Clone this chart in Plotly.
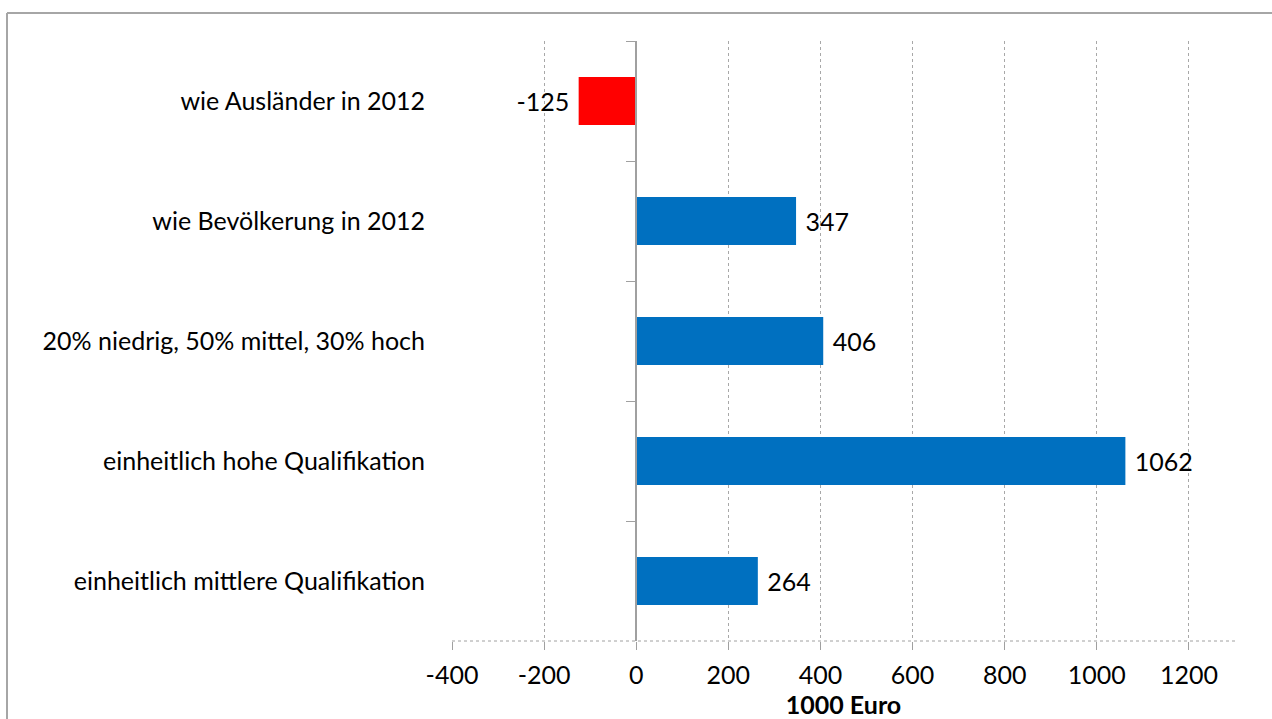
import plotly.graph_objects as go

categories = [
    "wie Ausländer in 2012",
    "wie Bevölkerung in 2012",
    "20% niedrig, 50% mittel, 30% hoch",
    "einheitlich hohe Qualifikation",
    "einheitlich mittlere Qualifikation",
]
values = [-125, 347, 406, 1062, 264]
x_ticks = [-400, -200, 0, 200, 400, 600, 800, 1000, 1200]
x_title = "1000 Euro"

FONT = "Lato, 'Open Sans', sans-serif"
colors = ["#FF0000" if v < 0 else "#0070C0" for v in values]
labels = [(f"{v}\u00a0" if v < 0 else f"\u00a0{v}") for v in values]
xmin, xmax = -400, 1300

W, H = 1272, 719
ML, MR, MT, MB = 452, 37, 41, 78
PW, PH = W - ML - MR, H - MT - MB


def px_x(p):
    return (p - ML) / PW


def px_y(p):
    return (H - MB - p) / PH


fig = go.Figure()
fig.add_trace(go.Bar(
    x=values, y=categories, orientation="h",
    marker=dict(color=colors, line=dict(width=0)),
    text=labels, textposition="outside",
    textfont=dict(size=25, color="black", family=FONT),
    cliponaxis=False, showlegend=False, hoverinfo="x+y",
))
# invisible helper trace for the category axis drawn at x=0
fig.add_trace(go.Scatter(
    x=[0] * len(categories), y=categories, yaxis="y2", mode="markers",
    marker=dict(opacity=0), showlegend=False, hoverinfo="skip",
))

fig.update_layout(
    width=W, height=H, autosize=False,
    margin=dict(l=ML, r=MR, t=MT, b=MB, autoexpand=False),
    paper_bgcolor="white", plot_bgcolor="white",
    font=dict(family=FONT, color="black"),
    bargap=0.6,
    xaxis=dict(
        range=[xmin, xmax], tickvals=x_ticks, ticktext=[str(t) for t in x_ticks],
        automargin=False,
        showgrid=True, gridcolor="#a8a8a8", griddash="dot", gridwidth=1,
        zeroline=False, showline=False,
        ticks="outside", ticklen=8, tickcolor="#a0a0a0",
        tickfont=dict(size=25, family=FONT),
        ticklabelstandoff=4,
        title=dict(text="<b>" + x_title + "</b>", font=dict(size=25, family=FONT), standoff=19),
    ),
    yaxis=dict(
        categoryorder="array", categoryarray=categories,
        range=[len(categories) - 0.5, -0.5],
        automargin=False,
        showline=False, showgrid=False, zeroline=False, ticks="",
        tickfont=dict(size=25, family=FONT),
        ticklabelstandoff=26,
    ),
    yaxis2=dict(
        overlaying="y", anchor="free", side="left",
        position=(0 - xmin) / (xmax - xmin),
        categoryorder="array", categoryarray=categories,
        range=[len(categories) - 0.5, -0.5],
        automargin=False,
        showline=True, linecolor="#a0a0a0", linewidth=1.5,
        ticks="outside", ticklen=9, tickcolor="#a0a0a0", tickson="boundaries",
        showticklabels=False, showgrid=False, zeroline=False,
    ),
    shapes=[
        dict(type="line", xref="paper", yref="paper", x0=0, x1=1, y0=0, y1=0,
             line=dict(color="#a0a0a0", width=1, dash="dot")),
        # chart border (top and left edges visible in the frame)
        dict(type="line", xref="paper", yref="paper",
             x0=px_x(7), x1=px_x(W), y0=px_y(13), y1=px_y(13),
             line=dict(color="#a6a6a6", width=2), layer="below"),
        dict(type="line", xref="paper", yref="paper",
             x0=px_x(7), x1=px_x(7), y0=px_y(13), y1=px_y(H),
             line=dict(color="#a6a6a6", width=2), layer="below"),
    ],
)

fig.write_html(
    "out.html",
    config={"displayModeBar": False, "responsive": False},
    post_script=(
        "var d=document.getElementById('{plot_id}');"
        "d.style.position='fixed';d.style.left='0px';d.style.top='0px';"
        "document.body.style.margin='0';document.body.style.overflow='hidden';"
    ),
)
